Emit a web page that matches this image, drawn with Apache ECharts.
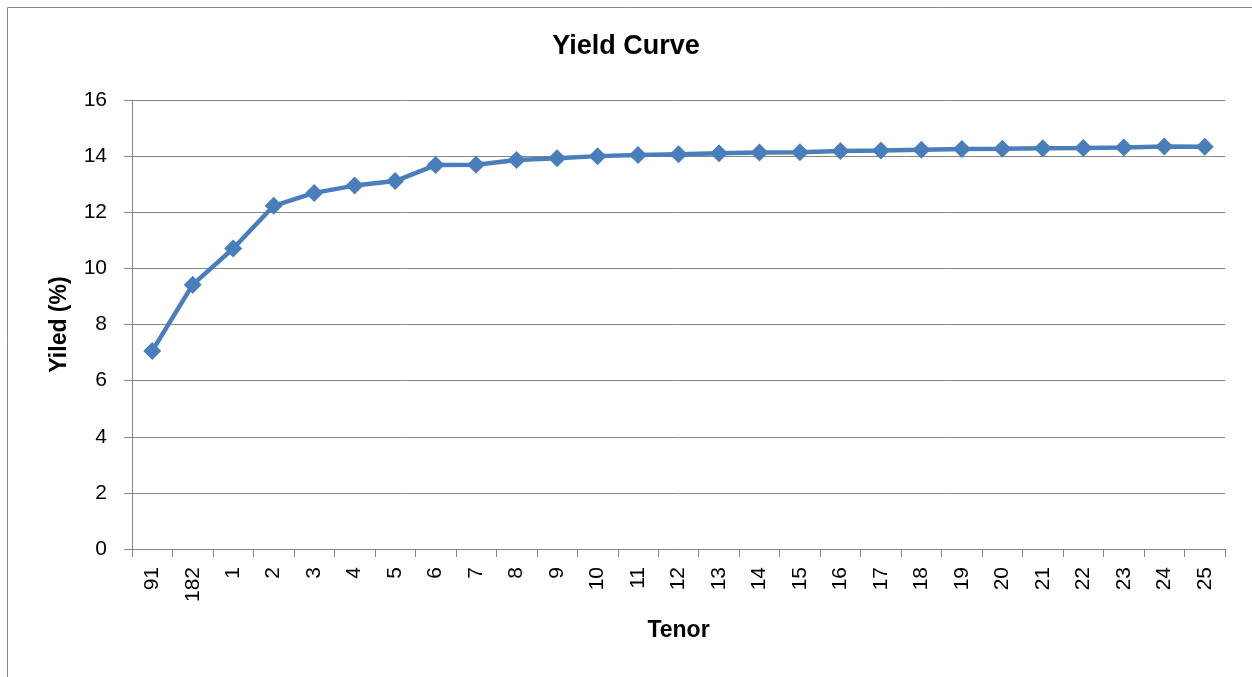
<!DOCTYPE html>
<html>
<head>
<meta charset="utf-8">
<script src="https://cdn.jsdelivr.net/npm/echarts@6/dist/echarts.min.js"></script>
<style>
    html, body { margin: 0; padding: 0; background: #fff; }
    #yieldChart { width: 1252px; height: 677px; }
</style>
</head>
<body>
<div id="yieldChart"></div>
<script>
    // tenors: 91 / 182 days, then years
    const tenors = ['91', '182', '1', '2', '3', '4', '5', '6', '7', '8', '9', '10', '11', '12',
        '13', '14', '15', '16', '17', '18', '19', '20', '21', '22', '23', '24', '25']
    const yields = [7.06, 9.42, 10.71, 12.23, 12.69, 12.95, 13.11, 13.68, 13.69, 13.86, 13.92, 14.0, 14.04, 14.07,
        14.1, 14.13, 14.14, 14.18, 14.2, 14.23, 14.25, 14.26, 14.28, 14.29, 14.31, 14.34, 14.33]

    const myChart = echarts.init(document.getElementById('yieldChart'))
    const gray = '#868686'
    const font = 'Liberation Sans'

    let option = {
        animation: false,
        color: ['#4a7ebb'],
        graphic: [{
            type: 'rect',
            shape: { x: 7.5, y: 7.5, width: 1300, height: 720 },
            style: { fill: 'none', stroke: gray, lineWidth: 1 },
            silent: true
        }],
        title: {
            text: 'Yield Curve',
            left: 'center',
            top: 28,
            textStyle: {
                fontFamily: font,
                fontSize: 27,
                fontWeight: 'bold',
                color: '#000'
            }
        },
        grid: {
            left: 132,
            right: 27,
            top: 100,
            bottom: 128
        },
        xAxis: {
            type: 'category',
            data: tenors,
            boundaryGap: true,
            name: 'Tenor',
            nameLocation: 'middle',
            nameGap: 70,
            nameTextStyle: { fontFamily: font, fontSize: 23, fontWeight: 'bold', color: '#000' },
            axisLine: { lineStyle: { color: gray } },
            axisTick: { show: true, interval: 0, length: 8, lineStyle: { color: gray } },
            axisLabel: {
                interval: 0,
                rotate: 90,
                margin: 18,
                fontFamily: font,
                fontSize: 21,
                color: '#000'
            }
        },
        yAxis: {
            type: 'value',
            min: 0,
            max: 16,
            interval: 2,
            name: 'Yiled (%)',
            nameLocation: 'middle',
            nameGap: 61,
            nameTextStyle: { fontFamily: font, fontSize: 23, fontWeight: 'bold', color: '#000' },
            axisLine: { show: true, lineStyle: { color: gray } },
            axisTick: { show: true, length: 8, lineStyle: { color: gray } },
            axisLabel: {
                margin: 25,
                fontFamily: font,
                fontSize: 21,
                color: '#000'
            },
            splitLine: { lineStyle: { color: gray, width: 1 } }
        },
        series: [{
            name: 'Yield',
            type: 'line',
            data: yields,
            symbol: 'diamond',
            symbolSize: 18,
            lineStyle: { width: 4.5, color: '#4a7ebb' },
            itemStyle: { color: '#4a7ebb' }
        }]
    }
    myChart.setOption(option)
</script>
</body>
</html>
